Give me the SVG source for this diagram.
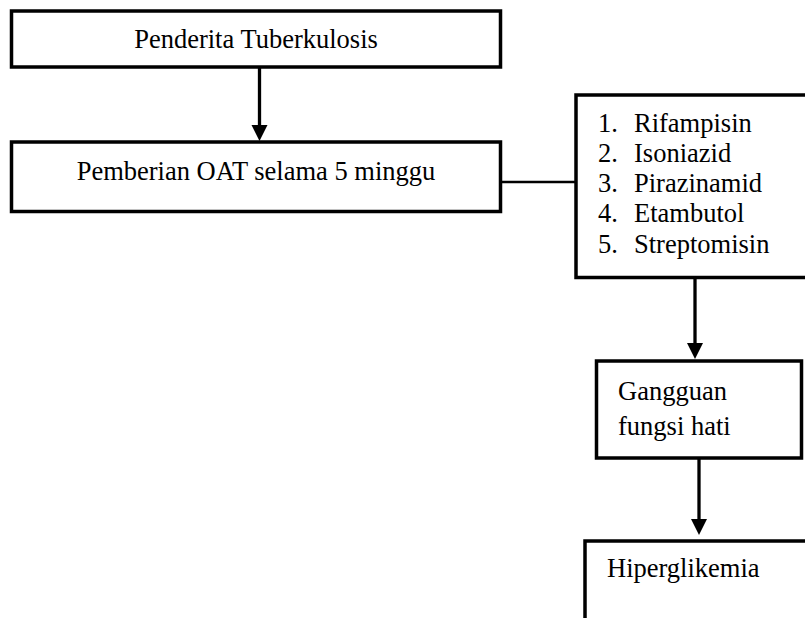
<svg xmlns="http://www.w3.org/2000/svg" width="805" height="618" viewBox="0 0 805 618">
<style>
.box{fill:#fff;stroke:#000;stroke-width:3.5}
.t{font-family:"Liberation Serif","Times New Roman",serif;font-size:26.5px;fill:#000}
.c{stroke:#000;stroke-width:3.3;fill:none}
.h{fill:#000}
</style>
<rect width="805" height="618" fill="#fff"/>
<g id="n1">
<rect class="box" x="11.5" y="11" width="489" height="56"/>
<text class="t" x="256" y="48" text-anchor="middle">Penderita Tuberkulosis</text>
</g>
<g id="n2">
<rect class="box" x="11.5" y="142" width="489" height="69.5"/>
<text class="t" x="256" y="180" text-anchor="middle">Pemberian OAT selama 5 minggu</text>
</g>
<g id="n3">
<rect class="box" x="576" y="95" width="260" height="182.5"/>
<text class="t" x="598" y="132">1.</text><text class="t" x="634" y="132">Rifampisin</text>
<text class="t" x="598" y="162">2.</text><text class="t" x="634" y="162">Isoniazid</text>
<text class="t" x="598" y="192">3.</text><text class="t" x="634" y="192">Pirazinamid</text>
<text class="t" x="598" y="222">4.</text><text class="t" x="634" y="222">Etambutol</text>
<text class="t" x="598" y="253">5.</text><text class="t" x="634" y="253">Streptomisin</text>
</g>
<g id="n4">
<rect class="box" x="596.5" y="361" width="205" height="97"/>
<text class="t" x="618" y="400">Gangguan</text>
<text class="t" x="618" y="435">fungsi hati</text>
</g>
<g id="n5">
<rect class="box" x="585" y="541" width="260" height="120"/>
<text class="t" x="607" y="577">Hiperglikemia</text>
</g>
<g id="connectors">
<line class="c" x1="259.5" y1="67" x2="259.5" y2="126"/>
<polygon class="h" points="251.5,125 267.5,125 259.5,141"/>
<line x1="501" y1="182" x2="576" y2="182" stroke="#000" stroke-width="2.7"/>
<line class="c" x1="695" y1="277.5" x2="695" y2="344"/>
<polygon class="h" points="687,343 703,343 695,359"/>
<line class="c" x1="699" y1="458" x2="699" y2="520"/>
<polygon class="h" points="691,519 707,519 699,535"/>
</g>
</svg>
